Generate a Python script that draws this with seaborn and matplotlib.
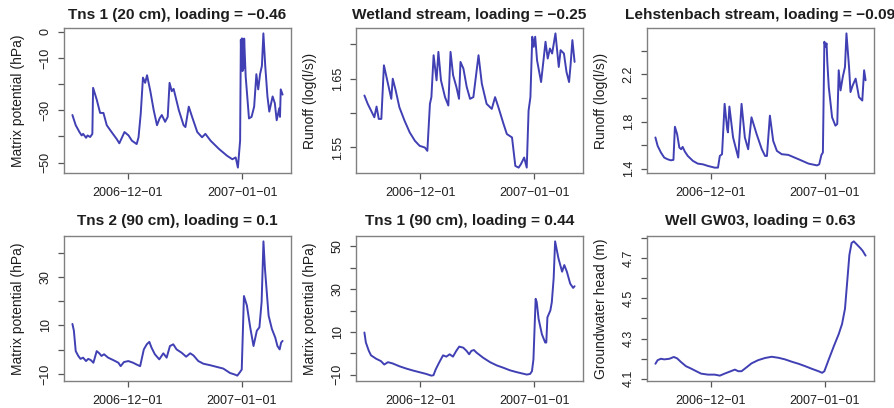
import matplotlib
matplotlib.use("Agg")
import matplotlib.pyplot as plt
import pandas as pd
import seaborn as sns

sns.set_style("white")
plt.rcParams["font.family"] = ["Liberation Sans", "DejaVu Sans"]

ORIGIN = pd.Timestamp("2006-12-01")

# --- series: days since 2006-12-01 and observed values ---------------------
tns1_20_days = [-15.0, -14.1, -13.1, -12.5, -12.1, -11.3, -10.9, -10.2, -9.6, -9.4,
                -8.4, -7.5, -6.6, -5.7, -4.4, -3.0, -2.3, -0.9, 0.2, 1.1, 2.4, 2.9,
                3.5, 4.1, 4.7, 5.2, 6.1, 7.0, 7.9, 8.6, 9.2, 10.1, 10.8, 11.3, 11.9,
                12.4, 13.8, 15.1, 15.6, 16.5, 17.4, 18.8, 20.1, 21.0, 22.4, 24.7,
                26.9, 28.3, 29.2, 29.8, 30.4, 30.6, 30.75, 30.9, 31.05, 31.2, 31.35,
                31.5, 31.9, 32.8, 33.5, 34.2, 34.8, 35.3, 35.8, 36.3, 36.7, 37.2,
                37.8, 38.3, 39.2, 39.8, 40.3, 41.0, 41.2, 41.4, 41.9]
tns1_20_vals = [-31.8, -35.7, -38.3, -39.6, -39.0, -40.5, -39.6, -40.2, -39.0, -21.4,
                -26.0, -31.0, -31.0, -35.7, -38.3, -41.0, -42.6, -38.3, -39.6, -41.6,
                -42.9, -40.3, -31.2, -17.5, -19.5, -16.6, -22.7, -29.9, -35.7, -33.1,
                -31.8, -34.4, -32.5, -19.5, -22.7, -21.8, -29.9, -35.7, -36.4, -28.6,
                -32.5, -38.3, -40.3, -39.0, -41.6, -44.8, -47.4, -48.7, -48.0, -51.9,
                -41.6, -3.0, -14.0, -2.5, -15.0, -3.0, -14.0, -2.6, -16.9, -33.1,
                -32.5, -28.6, -16.2, -22.0, -16.2, -13.0, -0.6, -13.0, -24.7, -30.5,
                -24.7, -27.3, -33.8, -29.2, -32.5, -22.0, -24.0]

wetland_days = [-15.2, -14.3, -13.4, -12.5, -11.9, -11.3, -10.6, -9.9, -9.3, -8.4,
                -7.9, -7.5, -6.7, -5.7, -4.3, -2.9, -1.5, -0.2, 1.2, 1.9, 2.6, 3.0,
                3.6, 4.4, 4.9, 5.6, 6.7, 7.6, 8.2, 8.9, 9.8, 10.5, 10.9, 11.7, 12.6,
                13.5, 14.4, 15.8, 16.7, 18.0, 19.4, 20.3, 21.2, 22.6, 23.5, 24.9,
                25.8, 26.7, 27.3, 28.2, 28.9, 29.4, 29.9, 30.4, 30.8, 31.2, 31.7,
                32.8, 34.0, 34.6, 35.2, 35.8, 36.7, 37.6, 38.1, 39.0, 39.7, 40.4,
                40.8, 41.3, 41.9]
wetland_vals = [1.6256, 1.6134, 1.6037, 1.5939, 1.6095, 1.5915, 1.5915, 1.6695, 1.6549,
                1.6329, 1.6207, 1.6500, 1.6329, 1.6085, 1.5890, 1.5720, 1.5598, 1.5524,
                1.5500, 1.5451, 1.6134, 1.6232, 1.6841, 1.6476, 1.6890, 1.6476, 1.6232,
                1.6110, 1.6890, 1.6549, 1.6378, 1.6207, 1.6744, 1.6646, 1.6378, 1.6207,
                1.6232, 1.6841, 1.6427, 1.6134, 1.6061, 1.6232, 1.6085, 1.5841, 1.5695,
                1.5646, 1.5232, 1.5207, 1.5256, 1.5354, 1.5207, 1.6037, 1.6232, 1.7110,
                1.6963, 1.7110, 1.6768, 1.6451, 1.7037, 1.6793, 1.6939, 1.6866, 1.7159,
                1.6671, 1.6915, 1.6866, 1.6598, 1.6451, 1.6695, 1.7061, 1.6744]

lehsten_days = [-15.0, -14.4, -13.5, -12.6, -11.7, -10.8, -10.1, -9.7, -9.1, -8.5,
                -8.0, -7.6, -7.0, -6.2, -4.8, -3.5, -2.1, -0.7, 1.1, 2.0, 2.5, 3.1,
                3.8, 4.5, 4.7, 5.1, 6.1, 7.5, 8.4, 9.3, 10.2, 11.1, 12.5, 13.9, 14.8,
                15.3, 16.1, 17.0, 18.0, 19.3, 21.1, 23.9, 26.6, 28.9, 29.5, 30.1,
                30.5, 30.9, 31.2, 31.5, 31.7, 32.1, 33.0, 33.9, 34.4, 34.8, 35.3,
                35.9, 36.5, 36.9, 37.6, 38.0, 38.6, 39.4, 40.3, 41.2, 41.7, 42.1]
lehsten_vals = [1.665, 1.594, 1.537, 1.494, 1.480, 1.471, 1.475, 1.756, 1.693, 1.579,
                1.565, 1.585, 1.545, 1.508, 1.466, 1.443, 1.437, 1.423, 1.409, 1.409,
                1.508, 1.523, 1.950, 1.736, 1.708, 1.927, 1.665, 1.494, 1.950, 1.665,
                1.565, 1.836, 1.693, 1.565, 1.508, 1.508, 1.850, 1.636, 1.551, 1.523,
                1.517, 1.480, 1.443, 1.428, 1.437, 1.517, 1.537, 2.477, 2.434, 2.463,
                2.306, 2.092, 1.836, 1.765, 1.779, 2.235, 2.064, 2.178, 2.263, 2.548,
                2.263, 2.050, 2.107, 2.164, 2.007, 1.978, 2.235, 2.150]

tns2_90_days = [-15.0, -14.6, -14.1, -13.4, -12.8, -12.1, -11.3, -10.7, -10.0, -9.3,
                -8.4, -7.7, -7.1, -6.4, -5.3, -3.9, -2.5, -1.9, -1.0, 0.2, 1.5, 2.4,
                3.4, 4.4, 5.2, 5.9, 6.5, 7.4, 8.6, 9.7, 10.6, 11.5, 12.4, 13.3, 14.7,
                15.9, 17.0, 17.9, 19.2, 20.6, 22.4, 24.2, 26.0, 27.8, 29.2, 29.8,
                30.5, 31.0, 31.6, 32.4, 33.3, 34.2, 34.6, 35.1, 35.8, 36.4, 36.9,
                37.3, 38.3, 39.2, 40.1, 40.7, 41.3, 41.7, 42.1]
tns2_90_vals = [10.6, 7.8, -0.6, -2.6, -3.8, -3.3, -4.7, -3.8, -4.3, -5.4, -0.6,
                -1.5, -2.6, -1.9, -3.3, -4.3, -5.4, -6.8, -5.1, -4.7, -5.4, -6.1,
                -6.8, 0.1, 2.2, 3.2, 0.8, -1.9, -4.0, -1.5, -3.3, 1.5, 2.2, 0.1,
                -1.3, -2.9, -1.5, -2.4, -4.7, -5.8, -6.4, -7.1, -7.8, -9.6, -10.3,
                -10.7, -9.3, -8.2, 22.1, 18.2, 9.2, 1.5, 4.3, 7.8, 9.2, 19.6, 44.6,
                33.5, 14.0, 8.5, 5.0, 1.5, 0.1, 2.9, 3.6]

tns1_90_days = [-15.2, -14.8, -14.0, -13.4, -12.0, -10.7, -9.8, -8.8, -7.5, -5.7,
                -3.8, -2.0, -0.2, 1.6, 3.0, 3.6, 4.2, 5.1, 6.2, 7.1, 8.0, 8.9, 9.8,
                10.6, 11.7, 12.6, 13.3, 13.9, 14.6, 15.3, 17.1, 19.0, 20.8, 22.6,
                24.4, 26.3, 29.0, 29.9, 30.4, 30.8, 31.4, 31.7, 32.2, 33.1, 34.0,
                34.3, 34.6, 35.4, 35.8, 36.3, 36.7, 37.6, 38.6, 39.2, 39.9, 40.8,
                41.6, 42.0]
tns1_90_vals = [9.7, 5.0, 1.1, -1.0, -2.6, -3.7, -5.3, -4.2, -4.8, -6.1, -7.2,
                -8.1, -8.9, -9.7, -10.5, -10.3, -7.6, -4.5, -1.0, -1.6, -0.5, -1.6,
                1.1, 3.1, 2.6, 1.1, -0.5, 1.1, 1.5, 0.3, -2.1, -4.2, -5.7, -6.8,
                -8.0, -8.9, -10.0, -9.7, -8.4, -2.9, 25.5, 23.9, 16.1, 8.9, 5.0, 5.0,
                16.8, 20.0, 23.9, 35.0, 52.4, 44.5, 38.2, 41.3, 38.2, 32.6, 30.6, 31.4]

gw03_days = [-15.0, -14.4, -13.5, -12.6, -11.2, -10.0, -9.1, -8.0, -6.7, -5.3,
             -3.9, -2.6, -0.7, 1.1, 2.5, 3.8, 5.2, 6.6, 7.5, 8.4, 9.8, 11.1, 12.9,
             14.8, 16.6, 18.4, 20.2, 22.1, 23.9, 25.7, 27.5, 29.3, 30.3, 30.9, 32.1,
             33.5, 34.8, 35.7, 36.5, 37.1, 37.7, 38.3, 38.9, 39.8, 40.7, 41.3, 42.1]
gw03_vals = [4.174, 4.192, 4.199, 4.196, 4.199, 4.208, 4.201, 4.182, 4.162, 4.150,
             4.137, 4.125, 4.120, 4.120, 4.115, 4.125, 4.135, 4.145, 4.137, 4.137,
             4.157, 4.176, 4.192, 4.203, 4.209, 4.204, 4.196, 4.184, 4.174, 4.162,
             4.149, 4.137, 4.129, 4.137, 4.196, 4.263, 4.322, 4.372, 4.448, 4.582,
             4.717, 4.776, 4.784, 4.767, 4.750, 4.737, 4.713]

titles = ["Tns 1 (20 cm), loading = \u22120.46",
          "Wetland stream, loading = \u22120.25",
          "Lehstenbach stream, loading = \u22120.09",
          "Tns 2 (90 cm), loading = 0.1",
          "Tns 1 (90 cm), loading = 0.44",
          "Well GW03, loading = 0.63"]
ylabels = ["Matrix potential (hPa)", "Runoff (log(l/s))", "Runoff (log(l/s))",
           "Matrix potential (hPa)", "Matrix potential (hPa)", "Groundwater head (m)"]
yticks = [[-50, -40, -30, -20, -10, 0],
          [1.55, 1.60, 1.65, 1.70],
          [1.4, 1.6, 1.8, 2.0, 2.2, 2.4],
          [-10, 0, 10, 20, 30, 40],
          [-10, 0, 10, 20, 30, 40, 50],
          [4.1, 4.2, 4.3, 4.4, 4.5, 4.6, 4.7, 4.8]]
yticklabels = [["\u221250", "", "\u221230", "", "\u221210", "0"],
               ["1.55", "", "1.65", ""],
               ["1.4", "", "1.8", "", "2.2", ""],
               ["\u221210", "", "10", "", "30", ""],
               ["\u221210", "", "10", "", "30", "", "50"],
               ["4.1", "", "4.3", "", "4.5", "", "4.7", ""]]
xtick_dates = ["2006-12-01", "2007-01-01"]
xtick_labels = ["2006\u221212\u221201", "2007\u221201\u221201"]

series = [(tns1_20_days, tns1_20_vals), (wetland_days, wetland_vals),
          (lehsten_days, lehsten_vals), (tns2_90_days, tns2_90_vals),
          (tns1_90_days, tns1_90_vals), (gw03_days, gw03_vals)]

LINE = "#4040b4"
TEXT = "#1e1e1e"
FRAME = "#808080"

W, H = 894, 408
fig = plt.figure(figsize=(W / 100, H / 100), dpi=100)

lefts = [64, 356, 647]
tops = [28, 236]
title_pad = [6.5, 8.0]
pw, ph = 227, 145

for i, (days, vals) in enumerate(series):
    r, c = divmod(i, 3)
    ax = fig.add_axes([lefts[c] / W, 1 - (tops[r] + ph) / H, pw / W, ph / H])
    df = pd.DataFrame({"date": ORIGIN + pd.to_timedelta(days, unit="D"),
                       "value": vals})
    sns.lineplot(data=df, x="date", y="value", ax=ax, color=LINE, lw=1.4,
                 estimator=None, sort=False)
    ax.margins(x=0.04, y=0.04)
    ax.set_xticks(pd.to_datetime(xtick_dates))
    ax.set_xticklabels(xtick_labels)
    ax.set_yticks(yticks[i])
    ax.set_yticklabels(yticklabels[i], rotation=90, va="center")
    ax.set_xlabel("")
    ax.set_ylabel(ylabels[i], fontsize=10, color=TEXT)
    ax.yaxis.set_label_coords(-0.17, 0.5)
    ax.set_title(titles[i], fontsize=11.1, fontweight="bold", color=TEXT,
                 pad=title_pad[r])
    ax.tick_params(axis="both", direction="out", length=4.3, width=0.9,
                   color="#555555", labelsize=9, labelcolor=TEXT,
                   left=True, bottom=True)
    ax.tick_params(axis="x", pad=5.5)
    ax.tick_params(axis="y", pad=4.5)
    for sp in ax.spines.values():
        sp.set_color(FRAME)
        sp.set_linewidth(1.0)

fig.savefig("out.png", dpi=100, facecolor="white")
